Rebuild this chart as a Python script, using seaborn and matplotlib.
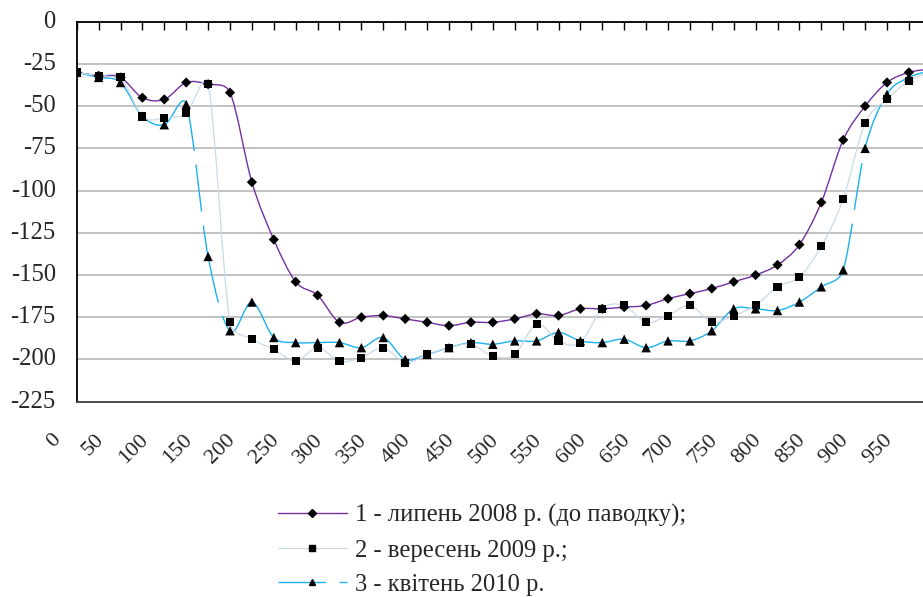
import numpy as np
import pandas as pd
import matplotlib
matplotlib.use("Agg")
import matplotlib.pyplot as plt
import seaborn as sns
from matplotlib.path import Path
from matplotlib.patches import PathPatch
from matplotlib.lines import Line2D
from matplotlib.transforms import ScaledTranslation

# ---------------- data ----------------
distance = [0, 25, 50, 75, 100, 125, 150, 175, 200, 225, 250, 275, 300, 325,
            350, 375, 400, 425, 450, 475, 500, 525, 550, 575, 600, 625, 650,
            675, 700, 725, 750, 775, 800, 825, 850, 875, 900, 925, 950, 975]

july_2008 = [-30, -32, -33, -45, -46, -36, -37, -42, -95, -129, -154, -162,
             -178, -175, -174, -176, -178, -180, -178, -178, -176, -173, -174,
             -170, -170, -169, -168, -164, -161, -158, -154, -150, -144, -132,
             -107, -70, -50, -36, -30, -28]

sept_2009 = [-30, -32, -33, -56, -57, -54, -37, -178, -188, -194, -201, -193,
             -201, -199, -193, -202, -197, -193, -191, -198, -197, -179, -189,
             -190, -170, -168, -178, -174, -168, -178, -174, -168, -157, -151,
             -133, -105, -60, -46, -35, -30]

april_2010 = [-30, -33, -36, -56, -61, -49, -139, -183, -166, -187, -190, -190,
              -190, -193, -187, -200, -197, -193, -190, -191, -189, -189, -184,
              -189, -190, -188, -193, -189, -189, -183, -170, -170, -171, -166,
              -157, -147, -75, -43, -33, -29]

series_labels = ["1 - липень 2008 р. (до паводку);",
                 "2 - вересень 2009 р.;",
                 "3 - квітень 2010 р."]

y_ticks = [0, -25, -50, -75, -100, -125, -150, -175, -200, -225]
x_tick_values = distance[:39]
x_tick_labels = [str(v) if v % 50 == 0 else "" for v in x_tick_values]

# ---------------- style ----------------
sns.set_theme(style="white")
plt.rcParams["font.family"] = ["Liberation Serif", "DejaVu Serif"]
plt.rcParams["axes.unicode_minus"] = False

C1 = "#7330a0"
C2 = "#cbd9e6"
C3 = "#1ab2ee"

W, H = 923, 597
fig = plt.figure(figsize=(W / 100, H / 100), dpi=100)
left_px, right_px, top_px, bottom_px = 76.7, 930.8, 21.7, 401.7
ax = fig.add_axes([left_px / W, 1 - bottom_px / H,
                   (right_px - left_px) / W, (bottom_px - top_px) / H])
ax.set_xlim(0, 975)
ax.set_ylim(-225, 0)

df = pd.DataFrame({
    "distance": distance * 3,
    "depth": july_2008 + sept_2009 + april_2010,
    "series": [series_labels[0]] * len(distance) + [series_labels[1]] * len(distance)
              + [series_labels[2]] * len(distance),
})


def bezier_pieces(xs, ys):
    """Excel-like smoothing: Bezier segments with tangents limited to half
    the segment length (computed in screen space)."""
    data = np.column_stack([xs, ys]).astype(float)
    P = ax.transData.transform(data)
    inv = ax.transData.inverted()
    n = len(P)
    pieces = []
    for i in range(n - 1):
        p0 = P[i - 1] if i > 0 else P[i]
        p1 = P[i]
        p2 = P[i + 1]
        p3 = P[i + 2] if i + 2 < n else P[i + 1]
        d12 = np.hypot(*(p2 - p1))
        t1 = (p2 - p0) / 6.0
        t2 = (p3 - p1) / 6.0
        for t in (t1, t2):
            L = np.hypot(*t)
            if L > d12 / 2 and L > 0:
                t *= (d12 / 2) / L
        c1 = p1 + t1
        c2 = p2 - t2
        pieces.append(inv.transform(np.vstack([p1, c1, c2, p2])))
    return pieces


def smooth_line(xs, ys, color, lw, zorder, dashes=None):
    pieces = bezier_pieces(xs, ys)
    if dashes is None:
        verts = [pieces[0][0]]
        codes = [Path.MOVETO]
        for seg in pieces:
            verts += [seg[1], seg[2], seg[3]]
            codes += [Path.CURVE4] * 3
        ax.add_patch(PathPatch(Path(verts, codes), fill=False, edgecolor=color,
                               lw=lw, zorder=zorder, capstyle="butt"))
    else:
        for seg in pieces:
            path = Path(seg, [Path.MOVETO] + [Path.CURVE4] * 3)
            ax.add_patch(PathPatch(path, fill=False, edgecolor=color, lw=lw,
                                   zorder=zorder, linestyle=(0, dashes),
                                   capstyle="butt"))


dash3 = (34, 10)
smooth_line(distance, july_2008, C1, 1.0, 3)
smooth_line(distance, april_2010, C3, 1.0, 3, dashes=dash3)
smooth_line(distance, sept_2009, C2, 0.9, 3)

marker_specs = [(series_labels[0], "D", 27), (series_labels[2], "^", 46),
                (series_labels[1], "s", 34)]
for lab, mk, s in marker_specs:
    sns.scatterplot(data=df[df["series"] == lab], x="distance", y="depth",
                    marker=mk, s=s, color="black", edgecolor="none",
                    linewidth=0, legend=False, ax=ax, zorder=5, clip_on=True)

# ---------------- axes ----------------
ax.set_xlim(0, 975)
ax.set_ylim(-225, 0)
ax.set_xlabel("")
ax.set_ylabel("")

ax.set_yticks(y_ticks)
ax.set_yticklabels([str(v) for v in y_ticks], fontsize=17.7)
ax.tick_params(axis="y", length=0, pad=15)
for lab in ax.get_yticklabels():
    lab.set_transform(lab.get_transform() + ScaledTranslation(0, 2.5 / 100, fig.dpi_scale_trans))

ax.set_axisbelow(True)
ax.grid(axis="y", color="#bdbdbd", lw=1.3)
ax.grid(axis="x", visible=False)

ax.set_xticks(x_tick_values)
ax.set_xticklabels(x_tick_labels, fontsize=16, rotation=45, ha="right",
                   va="center", rotation_mode="anchor")
ax.tick_params(axis="x", top=True, bottom=False, labeltop=False, labelbottom=True,
               direction="in", length=5.5, width=1.0, color="black", pad=25.5)
for lab in ax.get_xticklabels():
    lab.set_transform(lab.get_transform() + ScaledTranslation(-19 / 100, 0, fig.dpi_scale_trans))

for side in ["top", "left"]:
    ax.spines[side].set_color("black")
    ax.spines[side].set_linewidth(1.3)
ax.spines["bottom"].set_color("#404040")
ax.spines["bottom"].set_linewidth(1.3)
ax.spines["right"].set_visible(False)

# ---------------- legend ----------------
handles = [
    Line2D([], [], color=C1, lw=1.0, marker="D", ms=3.6, mfc="black", mec="black"),
    Line2D([], [], color=C2, lw=0.9, marker="s", ms=4.4, mfc="black", mec="black"),
    Line2D([], [], color=C3, lw=1.0, linestyle=(0, dash3), marker="^", ms=4.8,
           mfc="black", mec="black"),
]
fig.legend(handles, series_labels, loc="upper left",
           bbox_to_anchor=(278 / W, 1 - 504 / H), frameon=False,
           fontsize=17.7, handlelength=2.8, handletextpad=0.33,
           labelspacing=0.5, borderpad=0, borderaxespad=0)

fig.savefig("out.png", dpi=100)
